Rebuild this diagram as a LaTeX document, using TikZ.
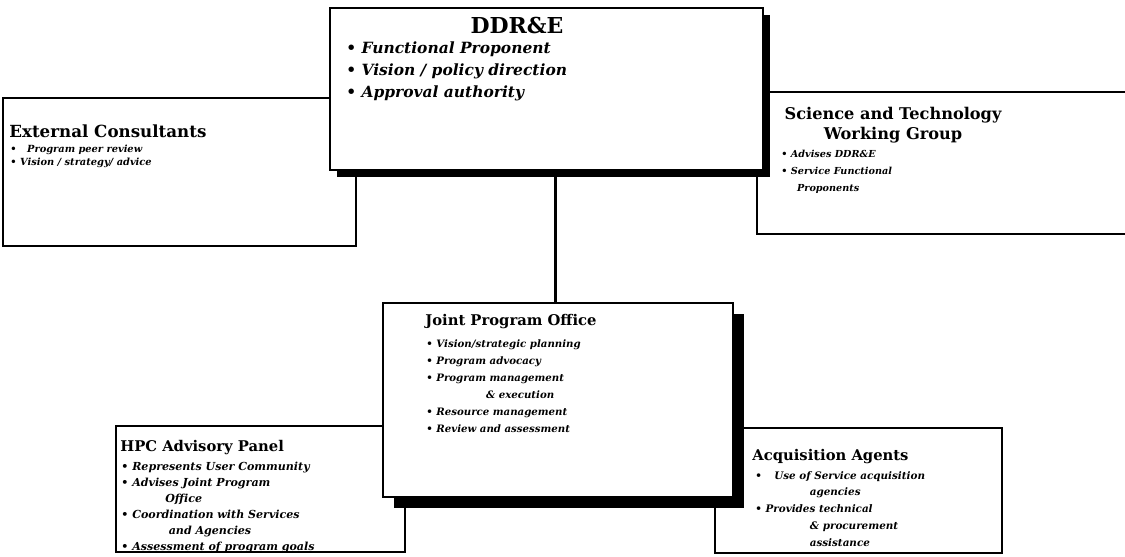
\documentclass[tikz,border=0pt]{standalone}
\usepackage{fontspec}
\setmainfont{DejaVu Serif}
\usetikzlibrary{shadows, fit, calc, positioning}

\tikzset{
  orgbox/.style={draw=black, line width=1.2pt, fill=white, rectangle, inner sep=0pt},
  raisedbox/.style={orgbox, drop shadow={shadow xshift=#1, shadow yshift=-#1, fill=black, opacity=1}},
  headtext/.style={font=\bfseries\fontsize{8.4}{11.4}\selectfont, inner sep=0pt, align=left},
  itemtext/.style={font=\bfseries\itshape\fontsize{5.9}{9.5}\selectfont, inner sep=0pt, align=left},
  link/.style={line width=1.7pt}
}
\newcommand{\bul}{\textbullet\ }

\begin{document}
\begin{tikzpicture}[x=0.02cm, y=-0.02cm]
  \clip (0,0) rectangle (1125,556);
  \fill[white] (0,0) rectangle (1125,556);

  % Boxes behind the top box
  \node[orgbox, fit={(3,98) (356,246)}] (extc) {};
  \node[orgbox, fit={(757,92) (1140,234)}] (stwg) {};

  % Top box
  \node[raisedbox=0.14cm, fit={(330,8) (763,170)}] (ddre) {};
  \node[headtext, font=\bfseries\fontsize{12.5}{14}\selectfont] (ddre-title) at (517,25) {DDR\&E};
  \node[itemtext, font=\bfseries\itshape\fontsize{8.8}{12.5}\selectfont, anchor=north west] (ddre-items) at (346,41)
    {\bul Functional Proponent\\ \bul Vision / policy direction\\ \bul Approval authority};

  % Side boxes at the top
  \node[headtext, font=\bfseries\fontsize{9.5}{11}\selectfont, anchor=west] (extc-title) at (9,131) {External Consultants};
  \node[itemtext, font=\bfseries\itshape\fontsize{5.6}{7.1}\selectfont, anchor=north west] (extc-items) at (10,145)
    {\textbullet\hspace{6pt}Program peer review\\ \bul Vision / strategy/ advice};

  \node[headtext, font=\bfseries\fontsize{9.2}{11.4}\selectfont, align=center] (stwg-title) at (893,125) {Science and Technology\\Working Group};
  \node[itemtext, font=\bfseries\itshape\fontsize{5.5}{9.6}\selectfont, anchor=north west] (stwg-items) at (781,150)
    {\bul Advises DDR\&E\\ \bul Service Functional\\ \hspace{9pt}Proponents};

  % Boxes behind the office
  \node[orgbox, fit={(116,426) (405,552)}] (hpcp) {};
  \node[orgbox, fit={(715,428) (1002,553)}] (acqa) {};

  \node[headtext, anchor=west] (hpcp-title) at (120,448) {HPC Advisory Panel};
  \node[itemtext, font=\bfseries\itshape\fontsize{6.3}{9.1}\selectfont, anchor=north west] (hpcp-items) at (121,462)
    {\bul Represents User Community\\ \bul Advises Joint Program\\ \hspace{25pt}Office\\
     \bul Coordination with Services\\ \hspace{27pt}and Agencies\\ \bul Assessment of program goals};

  \node[headtext, anchor=west] (acqa-title) at (752,457) {Acquisition Agents};
  \node[itemtext, anchor=north west] (acqa-items) at (755,471)
    {\textbullet\hspace{7pt}Use of Service acquisition\\ \hspace{31pt}agencies\\ \bul Provides technical\\
     \hspace{31pt}\& procurement\\ \hspace{31pt}assistance};

  % Office box
  \node[raisedbox=0.21cm, fit={(383,303) (733,497)}] (jpo) {};
  \node[headtext, anchor=west] (jpo-title) at (425,322) {Joint Program Office};
  \node[itemtext, font=\bfseries\itshape\fontsize{5.8}{9.7}\selectfont, anchor=north west] (jpo-items) at (426,339)
    {\bul Vision/strategic planning\\ \bul Program advocacy\\ \bul Program management\\
     \hspace{34pt}\& execution\\ \bul Resource management\\ \bul Review and assessment};

  % Link down to the office
  \coordinate (linkx) at (555,0);
  \draw[link] (ddre.south -| linkx) -- (jpo.north -| linkx);
\end{tikzpicture}
\end{document}
